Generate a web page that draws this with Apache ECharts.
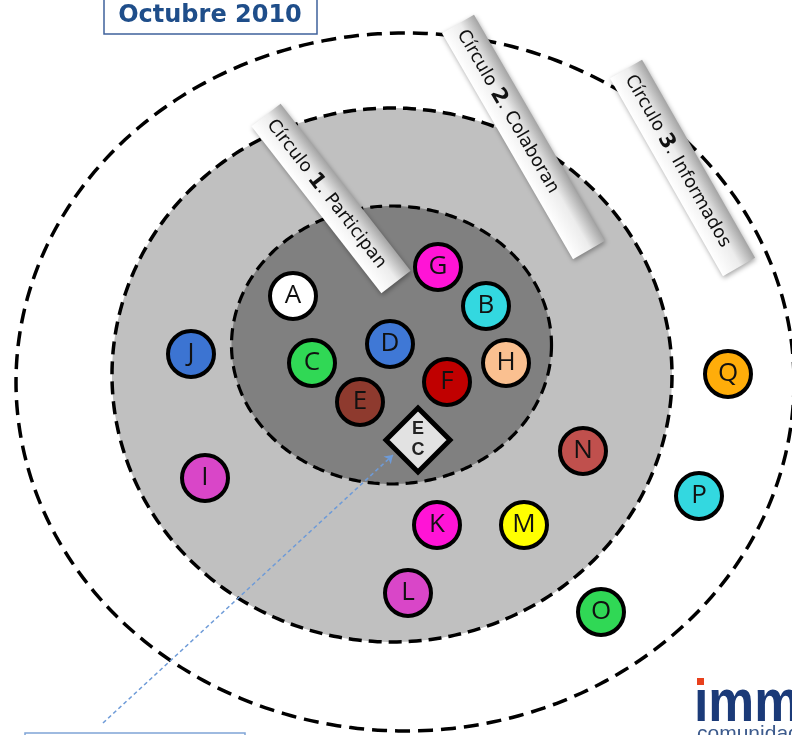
<!DOCTYPE html>
<html><head><meta charset="utf-8">
<script src="https://cdn.jsdelivr.net/npm/echarts@6/dist/echarts.min.js"></script>
<style>html,body{margin:0;padding:0;background:#fff}#c{width:792px;height:735px}</style>
</head><body><div id="c"></div>
<script>
// ---- data ----
const title = 'Octubre 2010';
const ringNames = ['Círculo 3', 'Círculo 2', 'Círculo 1'];
const ringCenterX = [405, 392, 391.5];
const ringCenterY = [382, 375, 345];
const ringRadiusX = [389, 280, 160];
const ringRadiusY = [349, 267, 139];

const labelNumbers = ['1', '2', '3'];
const labelWords = ['Participan', 'Colaboran', 'Informados'];
const labelStartX = [266, 458, 626];
const labelStartY = [115, 24, 69];
const labelEndX = [396, 589, 739];
const labelEndY = [282, 250, 267];

const members = ['A','B','C','D','E','F','G','H','I','J','K','L','M','N','O','P','Q'];
const memberX = [293, 486, 312, 390, 360, 447, 438, 506, 205, 191, 437, 408, 524, 583, 601, 699, 728];
const memberY = [296, 306, 363, 344, 402, 382, 267, 363, 478, 354, 525, 593, 525, 451, 612, 496, 374];

const centerLabel = 'E\nC';
const centerX = [418];
const centerY = [440];

const arrowFrom = [103, 723];
const arrowTo = [393, 455];

// ---- styles ----
const ringFills = ['#ffffff', '#c0c0c0', '#808080'];
const ringWidths = [3.5, 3.5, 3.2];
const ringDash = [[15, 8], [13, 7], [12, 7]];
const memberColors = {
  A:'#ffffff', B:'#33d8e0', C:'#30d855', D:'#3f78d6', E:'#8e3a2e', F:'#c00000',
  G:'#ff14d6', H:'#fac090', I:'#d946c8', J:'#3c74d2', K:'#ff14d6', L:'#d946c8',
  M:'#ffff00', N:'#c0504d', O:'#30d855', P:'#33d8e0', Q:'#ffad0a'
};

const chart = echarts.init(document.getElementById('c'), null, {renderer: 'canvas'});

const option = {
  animation: false,
  backgroundColor: '#ffffff',
  grid: {left: 0, right: 0, top: 0, bottom: 0},
  xAxis: {type: 'value', min: 0, max: 792, show: false},
  yAxis: {type: 'value', min: 0, max: 735, inverse: true, show: false},
  series: [
    {
      type: 'custom', name: 'rings', silent: true, clip: false, z: 1,
      data: ringNames.map((n, i) => ({name: n, value: [ringCenterX[i], ringCenterY[i], ringRadiusX[i], ringRadiusY[i]]})),
      renderItem: function (params, api) {
        const i = params.dataIndex;
        const cx = api.value(0), cy = api.value(1), rx = api.value(2), ry = api.value(3);
        const pts = [];
        for (let k = 0; k < 360; k++) {
          const t = k * Math.PI / 180;
          pts.push(api.coord([cx + rx * Math.cos(t), cy + ry * Math.sin(t)]));
        }
        return {
          type: 'polygon', shape: {points: pts},
          style: {fill: ringFills[i], stroke: '#000', lineWidth: ringWidths[i], lineDash: ringDash[i]}
        };
      }
    },
    {
      type: 'lines', coordinateSystem: 'cartesian2d', silent: true, z: 3,
      data: [{coords: [arrowFrom, arrowTo]}],
      symbol: ['none', 'arrow'], symbolSize: 8,
      lineStyle: {color: '#6e9bd8', width: 1.6, type: [4, 3], opacity: 1}
    },
    {
      type: 'custom', name: 'labels', silent: true, clip: false, z: 4,
      data: labelNumbers.map((n, i) => [labelStartX[i], labelStartY[i], labelEndX[i], labelEndY[i]]),
      renderItem: function (params, api) {
        const i = params.dataIndex;
        const p0 = api.coord([api.value(0), api.value(1)]);
        const p1 = api.coord([api.value(2), api.value(3)]);
        const dx = p1[0] - p0[0], dy = p1[1] - p0[1];
        const len = Math.hypot(dx, dy);
        const ang = Math.atan2(dy, dx);
        const h = 37;
        return {
          type: 'group', x: p0[0], y: p0[1], rotation: -ang,
          children: [
            {
              type: 'rect', shape: {x: 0, y: -h / 2, width: len, height: h},
              style: {
                fill: new echarts.graphic.LinearGradient(0, 0, 0, 1, [
                  {offset: 0, color: '#a4a4a4'}, {offset: 0.45, color: '#ececec'}, {offset: 1, color: '#ffffff'}
                ]),
                shadowBlur: 5, shadowColor: 'rgba(0,0,0,0.35)', shadowOffsetX: 1, shadowOffsetY: 2
              }
            },
            {
              type: 'text', x: 8, y: 1,
              style: {
                text: '{a|Círculo }{b|' + labelNumbers[i] + '}{a|. ' + labelWords[i] + '}',
                fontSize: 18, fontFamily: 'DejaVu Sans', fill: '#111',
                rich: {
                  a: {fontSize: 18, fontFamily: 'DejaVu Sans', fill: '#111'},
                  b: {fontSize: 21, fontWeight: 'bold', fontFamily: 'DejaVu Sans', fill: '#111'}
                },
                align: 'left', verticalAlign: 'middle'
              }
            }
          ]
        };
      }
    },
    {
      type: 'scatter', name: 'members', silent: true, z: 5,
      data: members.map((m, i) => ({name: m, value: [memberX[i], memberY[i]], itemStyle: {color: memberColors[m]}})),
      symbol: 'circle', symbolSize: 46,
      itemStyle: {borderColor: '#000', borderWidth: 4, opacity: 1},
      label: {show: true, position: 'inside', formatter: '{b}', fontFamily: 'Open Sans', fontSize: 26, color: '#111'}
    },
    {
      type: 'scatter', name: 'center', silent: true, z: 5,
      data: centerX.map((x, i) => ({name: centerLabel, value: [x, centerY[i]]})),
      symbol: 'diamond', symbolSize: 64,
      itemStyle: {color: '#e2e2e2', borderColor: '#000', borderWidth: 5, opacity: 1},
      label: {show: true, position: 'inside', formatter: '{b}', fontFamily: 'Liberation Sans', fontWeight: 'bold', fontSize: 18, lineHeight: 21, color: '#222'}
    }
  ],
  graphic: [
    {type: 'rect', x: 104, y: -3, z: 100, shape: {x: 0, y: 0, width: 213, height: 37},
      style: {fill: '#fff', stroke: '#3f629c', lineWidth: 1.5}},
    {type: 'text', x: 210, y: 16, z: 101,
      style: {text: title, fontFamily: 'DejaVu Sans', fontWeight: 'bold', fontSize: 24, fill: '#1f4e8a', align: 'center', verticalAlign: 'middle'}},
    {type: 'rect', x: 25, y: 733, z: 100, shape: {x: 0, y: 0, width: 220, height: 20},
      style: {fill: '#fff', stroke: '#7fa4d6', lineWidth: 1.5}},
    {type: 'rect', x: 697, y: 678, z: 100, shape: {x: 0, y: 0, width: 7, height: 7}, style: {fill: '#e8401c'}},
    {type: 'text', x: 694, y: 704, z: 100, scaleX: 0.86, originX: 0,
      style: {text: '\u0131mm', fontFamily: 'Liberation Sans', fontWeight: 'bold', fontSize: 60, fill: '#1b3a78', align: 'left', verticalAlign: 'middle'}},
    {type: 'text', x: 697, y: 734, z: 100,
      style: {text: 'comunidad', fontFamily: 'Liberation Sans', fontSize: 21, fill: '#3c5a8c', align: 'left', verticalAlign: 'middle'}}
  ]
};
chart.setOption(option);
</script>
</body></html>
